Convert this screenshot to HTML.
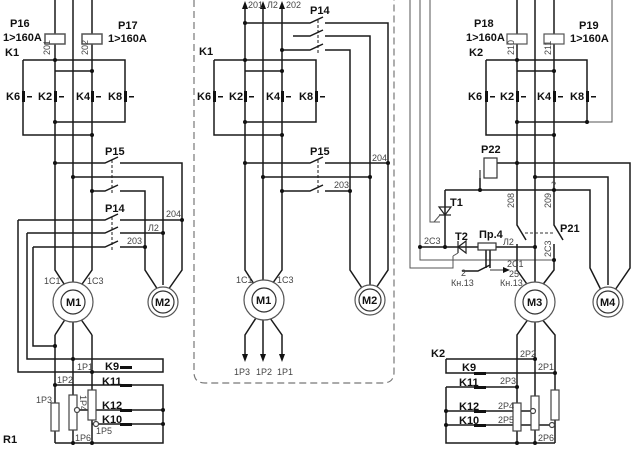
<!DOCTYPE html>
<html><head><meta charset="utf-8"><style>
html,body{margin:0;padding:0;background:#fff;}
svg{display:block}
text{font-family:"Liberation Sans",sans-serif;fill:#111}
.b{font-weight:bold;font-size:11px}
.s{font-size:9px;fill:#444}
</style></head><body>
<svg width="640" height="453" viewBox="0 0 640 453" xmlns="http://www.w3.org/2000/svg">
<g fill="none" stroke="#1a1a1a" stroke-width="1.5">
<!-- ===== LEFT SECTION ===== -->
<path d="M55 0V270L66 287M73 0V285M92 0V270L80 287"/>
<path d="M73 320V445"/>
<rect x="45" y="34" width="20" height="10" fill="#fff" stroke="#555"/>
<rect x="82" y="34" width="20" height="10" fill="#fff" stroke="#555"/>
<path d="M23 60H125V122H55M55 71H92M23 60V135H92"/>
<path d="M55 163H105L118 157M120 163H182V270L168 290"/>
<path d="M73 177H163V285"/>
<path d="M92 191H105L118 185M120 191H145V270L158 290"/>
<path d="M18 220H105L118 214M120 220H182"/>
<path d="M27 233H105L118 227M120 233H163"/>
<path d="M33 247H105L118 241M120 247H145"/>
<path d="M18 220V372H163V359H27V233"/>
<path d="M33 247V346H55"/>
<path d="M66 318L55 335M80 318L92 335"/>
<path d="M92 335V443M55 335V443"/>
<path d="M55 385H163V443H55"/>
<path d="M73 410H163M92 424H163"/>
</g>
<g fill="none" stroke="#1a1a1a" stroke-width="1" stroke-dasharray="3,2"><path d="M112 160V195M112 217V251"/></g>
<circle cx="73" cy="302" r="20" fill="#fff" stroke="#555" stroke-width="1.2"/>
<circle cx="73" cy="302" r="12" fill="#fff" stroke="#333" stroke-width="1.2"/>
<circle cx="163" cy="302" r="15" fill="#fff" stroke="#555" stroke-width="1.2"/>
<circle cx="163" cy="302" r="11" fill="#fff" stroke="#333" stroke-width="1.2"/>
<g fill="#fff" stroke="#444" stroke-width="1.2">
<rect x="51" y="403" width="8" height="28"/><rect x="69" y="395" width="8" height="35"/><rect x="88" y="390" width="8" height="30"/>
<circle cx="77" cy="410" r="2.5"/><circle cx="96" cy="424" r="2.5"/>
</g>
<g fill="#111">
<circle cx="55" cy="60" r="2"/><circle cx="92" cy="71" r="2"/><circle cx="55" cy="122" r="2"/><circle cx="92" cy="135" r="2"/>
<circle cx="55" cy="163" r="2"/><circle cx="73" cy="177" r="2"/><circle cx="92" cy="191" r="2"/>
<circle cx="182" cy="220" r="2"/><circle cx="163" cy="233" r="2"/><circle cx="145" cy="247" r="2"/>
<circle cx="55" cy="346" r="2"/><circle cx="73" cy="359" r="2"/><circle cx="92" cy="372" r="2"/><circle cx="55" cy="385" r="2"/>
<circle cx="163" cy="410" r="2"/><circle cx="163" cy="424" r="2"/><circle cx="73" cy="443" r="2"/><circle cx="92" cy="443" r="2"/>
<rect x="22" y="91" width="3" height="11"/><rect x="54" y="91" width="3" height="11"/><rect x="91" y="91" width="3" height="11"/><rect x="124" y="91" width="3" height="11"/>
<rect x="27" y="96" width="5" height="1.5"/><rect x="59" y="96" width="5" height="1.5"/><rect x="96" y="96" width="5" height="1.5"/><rect x="129" y="96" width="5" height="1.5"/>
<rect x="120" y="366" width="12" height="3"/><rect x="120" y="384" width="12" height="3"/><rect x="120" y="409" width="12" height="3"/><rect x="120" y="423" width="12" height="3"/>
</g>
<text x="10" y="27" class="b">P16</text><text x="3" y="41" class="b">1&gt;160A</text>
<text x="118" y="29" class="b">P17</text><text x="108" y="42" class="b">1&gt;160A</text>
<text x="5" y="56" class="b">K1</text>
<text x="6" y="100" class="b">K6</text><text x="38" y="100" class="b">K2</text><text x="76" y="100" class="b">K4</text><text x="108" y="100" class="b">K8</text>
<text x="105" y="155" class="b">P15</text><text x="105" y="212" class="b">P14</text>
<text x="166" y="217" class="s">204</text><text x="148" y="231" class="s">Л2</text><text x="127" y="244" class="s">203</text>
<text x="44" y="284" class="s">1C1</text><text x="87" y="284" class="s">1C3</text>
<text x="66" y="306" class="b">M1</text><text x="155" y="306" class="b">M2</text>
<text x="77" y="370" class="s">1P1</text><text x="57" y="383" class="s">1P2</text><text x="36" y="403" class="s">1P3</text>
<text x="80" y="395" class="s" transform="rotate(90 80 395)">1P4</text>
<text x="96" y="434" class="s">1P5</text><text x="75" y="441" class="s">1P6</text>
<text x="105" y="370" class="b">K9</text><text x="102" y="385" class="b">K11</text><text x="102" y="409" class="b">K12</text><text x="102" y="423" class="b">K10</text>
<text x="3" y="443" class="b">R1</text>
<text x="50" y="55" class="s" transform="rotate(-90 50 55)">201</text>
<text x="88" y="55" class="s" transform="rotate(-90 88 55)">202</text>

<!-- ===== MIDDLE ===== -->
<path d="M194 0V372Q194 383 205 383H383Q394 383 394 372V0" fill="none" stroke="#777" stroke-width="1.2" stroke-dasharray="7,4"/>
<g fill="none" stroke="#1a1a1a" stroke-width="1.5">
<path d="M245 8V270L256 287M263 8V285M282 8V270L270 287"/>
<path d="M256 318L245 335V355M263 320V355M270 318L282 335V355"/>
<path d="M245 23H310L323 17M325 23H388V270L376 288"/>
<path d="M293 36H310L323 30M325 36H370V285"/>
<path d="M282 50H310L323 44M325 50H350V270L362 288"/>
<path d="M214 60H316V122H245M245 71H282M214 60V135H282"/>
<path d="M245 163H310L323 157M325 163H388"/>
<path d="M263 177H370"/>
<path d="M282 191H310L323 185M325 191H350"/>
</g>
<g fill="none" stroke="#1a1a1a" stroke-width="1" stroke-dasharray="3,2"><path d="M318 20V55M318 160V195"/></g>
<g fill="#111">
<path d="M245 1L242 9H248Z"/><path d="M263 1L260 9H266Z"/><path d="M282 1L279 9H285Z"/>
<path d="M245 362L242 354H248Z"/><path d="M263 362L260 354H266Z"/><path d="M282 362L279 354H285Z"/>
<circle cx="245" cy="23" r="2"/><circle cx="282" cy="50" r="2"/>
<circle cx="245" cy="60" r="2"/><circle cx="282" cy="71" r="2"/><circle cx="245" cy="122" r="2"/><circle cx="282" cy="135" r="2"/>
<circle cx="245" cy="163" r="2"/><circle cx="388" cy="163" r="2"/><circle cx="263" cy="177" r="2"/><circle cx="370" cy="177" r="2"/><circle cx="282" cy="191" r="2"/><circle cx="350" cy="191" r="2"/>
<rect x="213" y="91" width="3" height="11"/><rect x="244" y="91" width="3" height="11"/><rect x="281" y="91" width="3" height="11"/><rect x="315" y="91" width="3" height="11"/>
<rect x="218" y="96" width="5" height="1.5"/><rect x="249" y="96" width="5" height="1.5"/><rect x="286" y="96" width="5" height="1.5"/><rect x="320" y="96" width="5" height="1.5"/>
</g>
<circle cx="264" cy="300" r="20" fill="#fff" stroke="#555" stroke-width="1.2"/>
<circle cx="264" cy="300" r="12" fill="#fff" stroke="#333" stroke-width="1.2"/>
<circle cx="370" cy="300" r="15" fill="#fff" stroke="#555" stroke-width="1.2"/>
<circle cx="370" cy="300" r="11" fill="#fff" stroke="#333" stroke-width="1.2"/>
<text x="248" y="8" class="s">201</text><text x="267" y="8" class="s">Л2</text><text x="286" y="8" class="s">202</text>
<text x="310" y="14" class="b">P14</text><text x="199" y="55" class="b">K1</text>
<text x="197" y="100" class="b">K6</text><text x="229" y="100" class="b">K2</text><text x="266" y="100" class="b">K4</text><text x="299" y="100" class="b">K8</text>
<text x="310" y="155" class="b">P15</text><text x="372" y="161" class="s">204</text><text x="334" y="188" class="s">203</text>
<text x="236" y="283" class="s">1C1</text><text x="277" y="283" class="s">1C3</text>
<text x="256" y="304" class="b">M1</text><text x="362" y="304" class="b">M2</text>
<text x="234" y="375" class="s">1P3</text><text x="256" y="375" class="s">1P2</text><text x="277" y="375" class="s">1P1</text>

<!-- ===== RIGHT ===== -->
<g fill="none" stroke="#555" stroke-width="1">
<path d="M410 0V268H453V256"/><path d="M420 0V260H554"/><path d="M430 0V222H440"/>
<path d="M612 0V122H587"/>
</g>
<g fill="none" stroke="#1a1a1a" stroke-width="1.5">
<path d="M517 0V225L526 240M517 244V270L529 287M535 0V287M554 0V225L563 240M554 244V270L541 287"/>
<path d="M529 318L517 335V443M535 320V443M541 318L555 335V443"/>
<path d="M486 60H587V122H517M517 71H554M486 60V135H554"/>
<path d="M497 163H630V268L615 290"/>
<path d="M535 177H608V285"/>
<path d="M480 178V190H590V268L601 290"/>
<path d="M445 190H480M445 190V247"/>
<path d="M420 247H535"/>
<path d="M446 359H535M446 359V373H555"/>
<path d="M446 387H517M446 387V443H555M446 411H535M446 425H555"/>
<path d="M486 250V268M490 250V268"/>
<path d="M462 271H478L490 265"/>
</g>
<path d="M525 233H554" stroke="#333" stroke-dasharray="3,2" fill="none"/>
<path d="M490 270H506" stroke="#333" fill="none"/><path d="M510 270L503 267V273Z" fill="#111"/>
<rect x="507" y="34" width="20" height="10" fill="#fff" stroke="#555" stroke-width="1.2"/>
<rect x="544" y="34" width="20" height="10" fill="#fff" stroke="#555" stroke-width="1.2"/>
<path d="M480 178V170" stroke="#333" stroke-width="1.2"/>
<rect x="484" y="158" width="13" height="20" fill="#fff" stroke="#333" stroke-width="1.2"/>
<rect x="478" y="243" width="18" height="7" fill="#fff" stroke="#333" stroke-width="1.2"/>
<path d="M439 207H451L445 215Z M439 215H451" fill="none" stroke="#222" stroke-width="1.2"/>
<path d="M440 215L434 222" stroke="#555" fill="none"/>
<path d="M466 241V253L458 247Z M458 241V253" fill="none" stroke="#222" stroke-width="1.2"/>
<path d="M458 253L453 256" stroke="#555" fill="none"/>
<circle cx="535" cy="302" r="20" fill="#fff" stroke="#555" stroke-width="1.2"/>
<circle cx="535" cy="302" r="12" fill="#fff" stroke="#333" stroke-width="1.2"/>
<circle cx="608" cy="302" r="15" fill="#fff" stroke="#555" stroke-width="1.2"/>
<circle cx="608" cy="302" r="11" fill="#fff" stroke="#333" stroke-width="1.2"/>
<g fill="#fff" stroke="#444" stroke-width="1.2">
<rect x="513" y="403" width="8" height="28"/><rect x="531" y="396" width="8" height="34"/><rect x="551" y="390" width="8" height="30"/>
<circle cx="533" cy="411" r="2.5"/><circle cx="552" cy="425" r="2.5"/>
</g>
<g fill="#111">
<circle cx="517" cy="60" r="2"/><circle cx="554" cy="71" r="2"/><circle cx="517" cy="122" r="2"/><circle cx="587" cy="122" r="2"/><circle cx="554" cy="135" r="2"/>
<circle cx="517" cy="163" r="2"/><circle cx="535" cy="177" r="2"/><circle cx="554" cy="190" r="2"/><circle cx="480" cy="190" r="2"/>
<circle cx="420" cy="247" r="2"/><circle cx="445" cy="247" r="2"/><circle cx="535" cy="247" r="2"/><circle cx="554" cy="260" r="2"/>
<circle cx="535" cy="359" r="2"/><circle cx="555" cy="373" r="2"/><circle cx="517" cy="387" r="2"/>
<circle cx="446" cy="411" r="2"/><circle cx="446" cy="425" r="2"/><circle cx="517" cy="443" r="2"/><circle cx="535" cy="443" r="2"/>
<rect x="485" y="91" width="3" height="11"/><rect x="516" y="91" width="3" height="11"/><rect x="553" y="91" width="3" height="11"/><rect x="586" y="91" width="3" height="11"/>
<rect x="490" y="96" width="5" height="1.5"/><rect x="521" y="96" width="5" height="1.5"/><rect x="558" y="96" width="5" height="1.5"/><rect x="591" y="96" width="5" height="1.5"/>
<rect x="474" y="372" width="12" height="3"/><rect x="474" y="386" width="12" height="3"/><rect x="474" y="410" width="12" height="3"/><rect x="474" y="424" width="12" height="3"/>
</g>
<text x="474" y="27" class="b">P18</text><text x="466" y="41" class="b">1&gt;160A</text>
<text x="579" y="29" class="b">P19</text><text x="570" y="42" class="b">1&gt;160A</text>
<text x="469" y="56" class="b">K2</text>
<text x="468" y="100" class="b">K6</text><text x="500" y="100" class="b">K2</text><text x="537" y="100" class="b">K4</text><text x="570" y="100" class="b">K8</text>
<text x="481" y="153" class="b">P22</text><text x="450" y="206" class="b">T1</text><text x="455" y="240" class="b">T2</text><text x="479" y="238" class="b">Пр.4</text>
<text x="560" y="232" class="b">P21</text>
<text x="424" y="244" class="s">2C3</text><text x="503" y="245" class="s">Л2</text>
<text x="461" y="276" class="s">2</text><text x="451" y="286" class="s">Кн.13</text>
<text x="509" y="277" class="s">25</text><text x="500" y="286" class="s">Кн.13</text><text x="507" y="267" class="s">2C1</text>
<text x="551" y="188" class="s">?</text>
<text x="514" y="208" class="s" transform="rotate(-90 514 208)">208</text>
<text x="551" y="208" class="s" transform="rotate(-90 551 208)">209</text>
<text x="551" y="257" class="s" transform="rotate(-90 551 257)">2C3</text>
<text x="514" y="55" class="s" transform="rotate(-90 514 55)">210</text>
<text x="551" y="55" class="s" transform="rotate(-90 551 55)">211</text>
<text x="527" y="306" class="b">M3</text><text x="600" y="306" class="b">M4</text>
<text x="431" y="357" class="b">K2</text>
<text x="462" y="371" class="b">K9</text><text x="459" y="386" class="b">K11</text><text x="459" y="410" class="b">K12</text><text x="459" y="424" class="b">K10</text>
<text x="520" y="357" class="s">2P2</text><text x="538" y="370" class="s">2P1</text><text x="500" y="384" class="s">2P3</text>
<text x="498" y="409" class="s">2P4</text><text x="498" y="423" class="s">2P5</text><text x="538" y="441" class="s">2P6</text>
</svg>
</body></html>
